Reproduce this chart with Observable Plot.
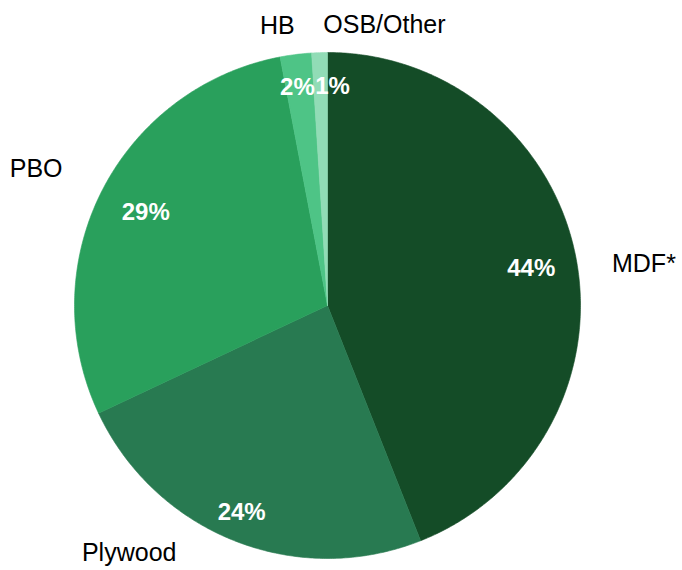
<!DOCTYPE html>
<html>
<head>
<meta charset="utf-8">
<script src="https://cdn.jsdelivr.net/npm/d3@7"></script>
<script src="https://cdn.jsdelivr.net/npm/@observablehq/plot@0.6"></script>
<style>
  html, body { margin: 0; padding: 0; background: #fff; }
  #chart svg { display: block; }
</style>
</head>
<body>
<div id="chart"></div>
<script>
const categories = ["MDF*", "Plywood", "PBO", "HB", "OSB/Other"];
const shares = [44, 24, 29, 2, 1];
const percentLabels = ["44%", "24%", "29%", "2%", "1%"];
const sliceColors = ["#144c27", "#287a51", "#29a05c", "#4ec486", "#91dcb6"];

const W = 682, H = 570;
const cx = 327, cy = 305, R = 253;

const pie = d3.pie().sort(null).value((d) => d.value)(
  categories.map((c, i) => ({name: c, value: shares[i], label: percentLabels[i]}))
);

// polygon points for each slice (unit radius, y up, angle clockwise from top)
const pts = [];
for (const s of pie) {
  const a0 = s.startAngle, a1 = s.endAngle;
  const n = Math.max(2, Math.ceil((a1 - a0) / (Math.PI / 360)));
  pts.push({name: s.data.name, x: 0, y: 0});
  for (let k = 0; k <= n; k++) {
    const a = a0 + (a1 - a0) * k / n;
    pts.push({name: s.data.name, x: Math.sin(a), y: Math.cos(a)});
  }
  pts.push({name: s.data.name, x: 0, y: 0});
}

const mid = (s) => (s.startAngle + s.endAngle) / 2;
const small = (s) => s.data.value < 5;

// data labels inside the slices (Excel-style "best fit" offsets)
const innerNudge = [[-0.02, -0.01], [-0.03, -0.037], [0.03, -0.013], [-0.01, 0], [0.047, -0.004]];
const inner = pie.map((s, i) => {
  const a = mid(s), r = small(s) ? 0.87 : 0.84;
  return {label: s.data.label, x: r * Math.sin(a) + innerNudge[i][0], y: r * Math.cos(a) + innerNudge[i][1]};
});

// category labels outside the pie
const outerNudge = [[0.013, -0.074], [-0.32, 0.192], [-0.029, -0.032], [-0.058, -0.008], [0.26, -0.012]];
const outer = pie.map((s, i) => {
  const a = mid(s), r = small(s) ? 1.12 : 1.26;
  return {label: s.data.name, x: r * Math.sin(a) + outerNudge[i][0], y: r * Math.cos(a) + outerNudge[i][1]};
});

const chart = Plot.plot({
  width: W,
  height: H,
  margin: 0,
  style: {background: "#fff", overflow: "visible"},
  x: {domain: [-cx / R, (W - cx) / R], range: [0, W], axis: null},
  y: {domain: [-(H - cy) / R, cy / R], range: [H, 0], axis: null},
  color: {domain: categories, range: sliceColors},
  marks: [
    Plot.line(pts, {
      x: "x", y: "y", z: "name",
      fill: "name", stroke: "name", strokeWidth: 0.6,
      curve: "linear"
    }),
    Plot.text(inner, {
      x: "x", y: "y", text: "label",
      fill: "white", fontSize: 24, fontWeight: "bold",
      fontFamily: "Liberation Sans, Arial, sans-serif"
    }),
    Plot.text(outer, {
      x: "x", y: "y", text: "label",
      fill: "black", fontSize: 25,
      fontFamily: "Liberation Sans, Arial, sans-serif"
    })
  ]
});

document.getElementById("chart").appendChild(chart);
</script>
</body>
</html>
